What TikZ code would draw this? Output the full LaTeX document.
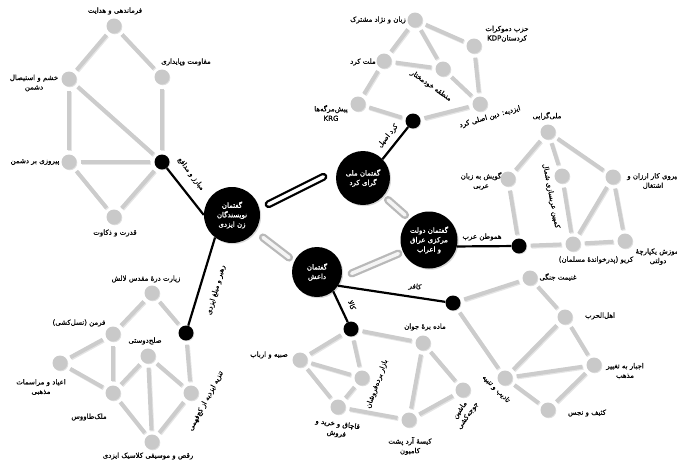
\documentclass[tikz,border=0pt]{standalone}
\usepackage{fontspec}
\newfontfamily\arabicfont[Script=Arabic,FakeBold=0.5]{DejaVu Sans}
\newfontfamily\hubarab[Script=Arabic,FakeBold=1.2]{DejaVu Sans}
\TeXXeTstate=1
\newcommand\fa[1]{\beginR#1\endR}
\usetikzlibrary{shadows}
\tikzset{
  sat/.style={circle, fill=gray!42, minimum size=15pt, inner sep=0pt,
    drop shadow={opacity=0.25, shadow xshift=0.8pt, shadow yshift=-0.8pt}},
  bdot/.style={circle, fill=black, minimum size=15pt, inner sep=0pt,
    drop shadow={opacity=0.25, shadow xshift=0.8pt, shadow yshift=-0.8pt}},
  hub/.style={circle, fill=black, inner sep=0pt, text=white, align=center,
    font={\hubarab\fontsize{7}{9.5}\selectfont},
    drop shadow={opacity=0.3, shadow xshift=1.2pt, shadow yshift=-1.2pt}},
  lab/.style={font={\arabicfont\fontsize{7}{9.5}\selectfont}, inner sep=0.5pt, align=center},
  gedge/.style={draw=gray!40, line width=4pt, shorten <=4pt, shorten >=4pt,
    preaction={draw=gray!20, line width=4pt, transform canvas={xshift=0.9pt, yshift=-1.1pt}}},
  bedge/.style={draw=black, line width=2.2pt},
  bpipe/.style={draw=black, double=white, line width=2.3pt, double distance=3.4pt, line cap=round},
  gpipe/.style={draw=gray!55, double=gray!8, line width=2.3pt, double distance=3.6pt, line cap=round}
}
\begin{document}
\begin{tikzpicture}[x=1pt,y=-1pt]
\useasboundingbox (0,0) rectangle (677,464);

% hubs
\node[hub, minimum size=56pt] (yz) at (232,215) {\fa{گفتمان}\\\fa{نویسندگان}\\\fa{زن ایزدی}};
\node[hub, minimum size=54pt] (kd) at (363,178) {\fa{گفتمان ملی}\\\fa{گرای کرد}};
\node[hub, minimum size=57pt] (iq) at (429,240) {\fa{گفتمان دولت}\\\fa{مرکزی عراق}\\\fa{و اعراب}};
\node[hub, minimum size=50pt] (da) at (317,272) {\fa{گفتمان}\\\fa{داعش}};

% pipes between hubs
\coordinate (p1a) at (268.6,204.2); \coordinate (p1b) at (323.4,176.8);
\coordinate (p2a) at (388,200);     \coordinate (p2b) at (405,215);
\coordinate (p3a) at (263,237.5);   \coordinate (p3b) at (289,257.5);
\coordinate (p4a) at (351.7,273.4); \coordinate (p4b) at (398.3,253.6);
\draw[bpipe] (p1a) -- (p1b);
\draw[gpipe] (p2a) -- (p2b);
\draw[gpipe] (p3a) -- (p3b);
\draw[gpipe] (p4a) -- (p4b);

% black dots
\node[bdot] (d1) at (162,162) {};
\node[bdot] (d2) at (413,121) {};
\node[bdot] (d3) at (519,246) {};
\node[bdot] (d6) at (186,333) {};
\node[bdot] (d4) at (351,329) {};
\node[bdot] (d5) at (453,303) {};

% black connectors
\draw[bedge] (d1) -- (yz.180);
\draw[bedge] (yz.-127) -- (d6);
\draw[bedge] (kd.44) -- (d2);
\draw[bedge] (iq.-13) -- (d3);
\draw[bedge] (da.-50) -- (d4);
\draw[bedge] (da.-33) -- (d5);

\node[lab, rotate=-53] (l1) at (191,174) {\fa{مبارز و مدافع}};
\node[lab, rotate=74] (l2) at (216,290) {\fa{رهبر و مبلغ ایزدی}};
\node[lab, rotate=51] (l3) at (388,136) {\fa{کرد اصیل}};
\node[lab] (l4) at (482,237) {\fa{هموطن عرب}};
\node[lab, rotate=-68] (l5) at (352,305) {\fa{کالا}};
\node[lab, rotate=-7] (l6) at (415,287) {\fa{کافر}};

% top-left cluster
\node[sat] (a1) at (114,26) {};
\node[sat] (a2) at (162,77) {};
\node[sat] (a3) at (69,79) {};
\node[sat] (a4) at (69,162) {};
\node[sat] (a5) at (114,217) {};
\node[lab] (ta1) at (115,11) {\fa{فرماندهی و هدایت}};
\node[lab] (ta2) at (186,62) {\fa{مقاومت وپایداری}};
\node[lab] (ta3) at (34,83) {\fa{خشم و استیصال}\\\fa{دشمن}};
\node[lab] (ta4) at (35,162) {\fa{پیروزی بر دشمن}};
\node[lab] (ta5) at (115,233) {\fa{قدرت و ذکاوت}};
\foreach \a/\b in {a1/a3, a1/a2, a3/a4, a3/d1, a2/d1, a4/d1, a4/a5, a5/d1}
  \draw[gedge] (\a) -- (\b);

% Kurd cluster
\node[sat] (b1) at (415,20) {};
\node[sat] (b2) at (474,46) {};
\node[sat] (b3) at (384,61) {};
\node[sat] (b4) at (443,69) {};
\node[sat] (b5) at (358,104) {};
\node[sat] (b6) at (480,104) {};
\node[lab] (tb1) at (378,20) {\fa{زبان و نژاد مشترک}};
\node[lab] (tb2) at (507,34) {\fa{حزب دموکرات}\\\fa{کردستان\beginL KDP\endL}};
\node[lab] (tb3) at (363,62) {\fa{ملت کرد}};
\node[lab, rotate=-35] (tb4) at (431,86) {\fa{منطقه خودمختار}};
\node[lab] (tb5) at (331,113) {\fa{پیش‌مرگه‌ها}\\KRG};
\node[lab, rotate=16] (tb6) at (490,117) {\fa{ایزدیه: دین اصلی کرد}};
\foreach \a/\b in {b1/b3, b1/b4, b1/b2, b3/b4, b3/b5, b4/b6, b2/b6, b5/d2, d2/b6}
  \draw[gedge] (\a) -- (\b);

% Iraq cluster
\node[sat] (c1) at (548,132) {};
\node[sat] (c2) at (508,179) {};
\node[sat] (c3) at (562,176) {};
\node[sat] (c4) at (613,177) {};
\node[sat] (c5) at (573,244) {};
\node[sat] (c6) at (625,241) {};
\node[lab] (tc1) at (547,116) {\fa{ملی‌گرایی}};
\node[lab] (tc2) at (481,181) {\fa{گویش به زبان}\\\fa{عربی}};
\node[lab, rotate=-79] (tc3) at (551,196) {\fa{کمپین عربسازی شمال}};
\node[lab] (tc4) at (653,181) {\fa{نیروی کار ارزان و}\\\fa{اشتغال}};
\node[lab] (tc5) at (596,260) {\fa{کریو (پدرخواندهٔ مسلمان)}};
\node[lab] (tc6) at (658,256) {\fa{آموزش یکپارچهٔ}\\\fa{دولتی}};
\foreach \a/\b in {c1/c2, c1/c3, c1/c4, c2/d3, c3/c5, c4/c5, c4/c6, d3/c5, c5/c6}
  \draw[gedge] (\a) -- (\b);

% Daesh cluster B
\node[sat] (g1) at (530,278) {};
\node[sat] (g2) at (565,317) {};
\node[sat] (g3) at (594,365) {};
\node[sat] (g4) at (505,378) {};
\node[sat] (g5) at (548,410) {};
\node[lab] (tg1) at (558,277) {\fa{غنیمت جنگی}};
\node[lab] (tg2) at (600,316) {\fa{اهل‌الحرب}};
\node[lab] (tg3) at (625,371) {\fa{اجبار به تغییر}\\\fa{مذهب}};
\node[lab, rotate=-45] (tg4) at (496,389) {\fa{تادیب و تنبیه}};
\node[lab] (tg5) at (587,413) {\fa{کثیف و نجس}};
\foreach \a/\b in {d5/g1, d5/g4, g1/g2, g2/g3, g2/g4, g4/g3, g4/g5, g3/g5}
  \draw[gedge] (\a) -- (\b);

% Daesh cluster A
\node[sat] (f1) at (423,343) {};
\node[sat] (f2) at (300,360) {};
\node[sat] (f3) at (362,378) {};
\node[sat] (f4) at (338,407) {};
\node[sat] (f5) at (409,420) {};
\node[sat] (f6) at (463,390) {};
\node[lab] (tf1) at (425,327) {\fa{ماده برهٔ جوان}};
\node[lab] (tf2) at (269,355) {\fa{صبیه و ارباب}};
\node[lab, rotate=70] (tf3) at (377,384) {\fa{بازار برده‌فروشان}};
\node[lab, rotate=-8] (tf4) at (337,429) {\fa{قاچاق و خرید و}\\\fa{فروش}};
\node[lab] (tf5) at (410,446) {\fa{کیسهٔ آرد پشت}\\\fa{کامیون}};
\node[lab, rotate=55] (tf6) at (464,413) {\fa{ماشین}\\\fa{جوجه‌کشی}};
\foreach \a/\b in {d4/f2, d4/f3, d4/f1, f2/f3, f2/f4, f3/f4, f4/f5, f1/f5, f1/f6, f5/f6}
  \draw[gedge] (\a) -- (\b);

% bottom-left cluster
\node[sat] (e1) at (152,293) {};
\node[sat] (e2) at (113,334) {};
\node[sat] (e3) at (60,363) {};
\node[sat] (e4) at (148,356) {};
\node[sat] (e5) at (113,393) {};
\node[sat] (e6) at (191,393) {};
\node[sat] (e7) at (152,442) {};
\node[lab] (te1) at (146,279) {\fa{زیارت درهٔ مقدس لالش}};
\node[lab] (te2) at (79,323) {\fa{فرمن (نسل‌کشی)}};
\node[lab] (te3) at (41,387) {\fa{اعیاد و مراسمات}\\\fa{مذهبی}};
\node[lab] (te4) at (145,341) {\fa{صلح‌دوستی}};
\node[lab] (te5) at (89,417) {\fa{ملک‌طاووس}};
\node[lab, rotate=62] (te6) at (206,401) {\fa{تنزیه ایزدیه از کج‌فهمی}};
\node[lab] (te7) at (148,456) {\fa{رقص و موسیقی کلاسیک ایزدی}};
\foreach \a/\b in {e1/e2, e1/d6, e2/e3, e2/e5, e3/e5, e4/e5, e4/e6, e4/e7, e5/e7, e6/e7, d6/e6}
  \draw[gedge] (\a) -- (\b);
\end{tikzpicture}
\end{document}
